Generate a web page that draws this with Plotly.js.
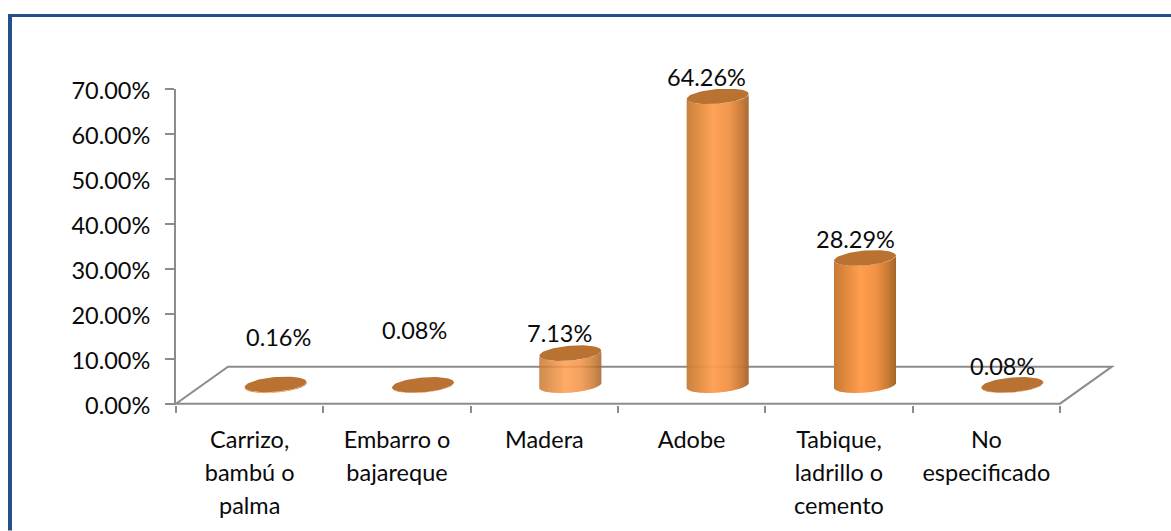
<!DOCTYPE html>
<html><head><meta charset="utf-8">
<script src="https://cdn.plot.ly/plotly-3.0.1.min.js"></script>
<style>html,body{margin:0;padding:0;background:#fff}</style></head>
<body><div id="chart" style="width:1171px;height:531px"></div>
<script>
const categories = ["Carrizo,<br>bambú o<br>palma","Embarro o<br>bajareque","Madera","Adobe","Tabique,<br>ladrillo o<br>cemento","No<br>especificado"];
const values = [0.16,0.08,7.13,64.26,28.29,0.08];
const valueLabels = ["0.16%","0.08%","7.13%","64.26%","28.29%","0.08%"];
const yTicks = [0,10,20,30,40,50,60,70];

// drawing constants (3-D look of the original)
const FONT = "Lato, Carlito, sans-serif", FS = 23.5, INK = "#0a0a0a";
const pxX = 884/6, pxY = 4.5;                 // pixels per category / per percent
const shiftX = 26/pxX, floorY = 18.5/pxY;     // cylinder centre offset on the floor
const a = 31/pxX, tilt = 2.5/pxY, b = 7.4/pxY;// ellipse half-axes
const depthX = 52/pxX, depthY = 37/pxY;
const labelXShift = [29,17,15,15,16,16];
const labelYShift = [47,55,20,19,19,18.5];
const strips = 62;
const stops = [[-1,[198,122,52]],[-0.6,[226,138,62]],[-0.15,[255,158,78]],[0.35,[242,146,70]],[0.75,[200,122,50]],[1,[165,100,42]]];
function shade(u){
  for(let i=1;i<stops.length;i++){ if(u<=stops[i][0]){
    const t=(u-stops[i-1][0])/(stops[i][0]-stops[i-1][0]);
    const c=stops[i-1][1].map((v,k)=>Math.round(v+(stops[i][1][k]-v)*t));
    return `rgb(${c.join(",")})`; } }
  return "rgb(165,100,42)";
}
const traces = [];
for(let s=0;s<strips;s++){
  const u0=-1+2*s/strips, u1=-1+2*(s+1)/strips, u=(u0+u1)/2;
  const low=tilt*u-b*Math.sqrt(Math.max(0,1-u*u));
  traces.push({type:"bar",x:categories,y:values,
    base:values.map(()=>floorY+low),
    offset:values.map(()=>shiftX+a*u0),
    width:values.map(()=>a*(u1-u0)*(s===strips-1?1:1.25)),
    marker:{color:shade(u),opacity:1,line:{width:0}},
    hoverinfo:"skip",showlegend:false});
}
// top caps
const capX=[],capY=[];
values.forEach((v,i)=>{
  for(let k=0;k<=72;k++){const t=k/72*2*Math.PI;
    capX.push(i+shiftX+a*Math.cos(t));
    capY.push(floorY+v+tilt*Math.cos(t)+b*Math.sin(t));}
  capX.push(null);capY.push(null);
});
traces.push({type:"scatter",mode:"lines",x:capX,y:capY,xaxis:"x2",yaxis:"y",fill:"toself",
  fillcolor:"#b97232",line:{width:0,color:"#b97232"},hoverinfo:"skip",showlegend:false});

const xMax=5.5+(939-884)/pxX;
const floorPath=`M-0.5,0 L5.5,0 L${5.5+depthX},${depthY} L${-0.5+depthX},${depthY} Z`;
const BLUE="#245089";
const px=p=>(p-176)/939, py=p=>(405.35-p)/316.35;
const layout={
  width:1171,height:531,autosize:false,showlegend:false,
  paper_bgcolor:"#fff",plot_bgcolor:"rgba(0,0,0,0)",
  margin:{l:176,r:56,t:89,b:125.65,pad:0},
  barmode:"overlay",
  font:{family:FONT,size:FS,color:INK},
  xaxis:{type:"category",range:[-0.5,xMax],tickson:"boundaries",ticks:"outside",ticklen:7,tickwidth:2,tickcolor:"#8c8c8c",
    showgrid:false,showline:false,zeroline:false,tickangle:0,automargin:false,fixedrange:true,
    ticklabelstandoff:17,
    tickmode:"array",tickvals:categories,
    ticktext:categories.map(c=>c.split("<br>").map(l=>`<span style="font-size:${FS}px">${l}</span>`).join("<br>")),
    tickfont:{family:FONT,size:25.4,color:INK}},
  xaxis2:{overlaying:"x",anchor:"y",range:[-0.5,xMax],visible:false,fixedrange:true},
  yaxis:{range:[-0.3,70],tickmode:"array",tickvals:yTicks,ticktext:yTicks.map(v=>v.toFixed(2)+"%"),ticks:"outside",ticklen:9,tickwidth:2,tickcolor:"#8c8c8c",
    showline:true,linewidth:2,linecolor:"#8c8c8c",showgrid:false,zeroline:false,fixedrange:true,ticklabelstandoff:10,ticklabelshift:2,
    tickfont:{family:FONT,size:FS,color:INK}},
  annotations:values.map((v,i)=>({xref:"x2",yref:"y",x:i,y:v+floorY,xshift:labelXShift[i],yshift:labelYShift[i],
    text:valueLabels[i],showarrow:false,xanchor:"center",yanchor:"middle",font:{family:FONT,size:FS,color:INK}})),
  shapes:[
    {type:"path",xref:"x2",yref:"y",path:floorPath,line:{color:"#8c8c8c",width:2},fillcolor:"rgba(0,0,0,0)",layer:"below"},
    {type:"rect",xref:"paper",yref:"paper",x0:px(8),x1:px(12),y0:py(531),y1:py(14),line:{width:0},fillcolor:BLUE},
    {type:"rect",xref:"paper",yref:"paper",x0:px(8),x1:px(1171),y0:py(17),y1:py(14),line:{width:0},fillcolor:BLUE}
  ]
};
Plotly.newPlot("chart",traces,layout,{displayModeBar:false,staticPlot:true});
</script></body></html>
